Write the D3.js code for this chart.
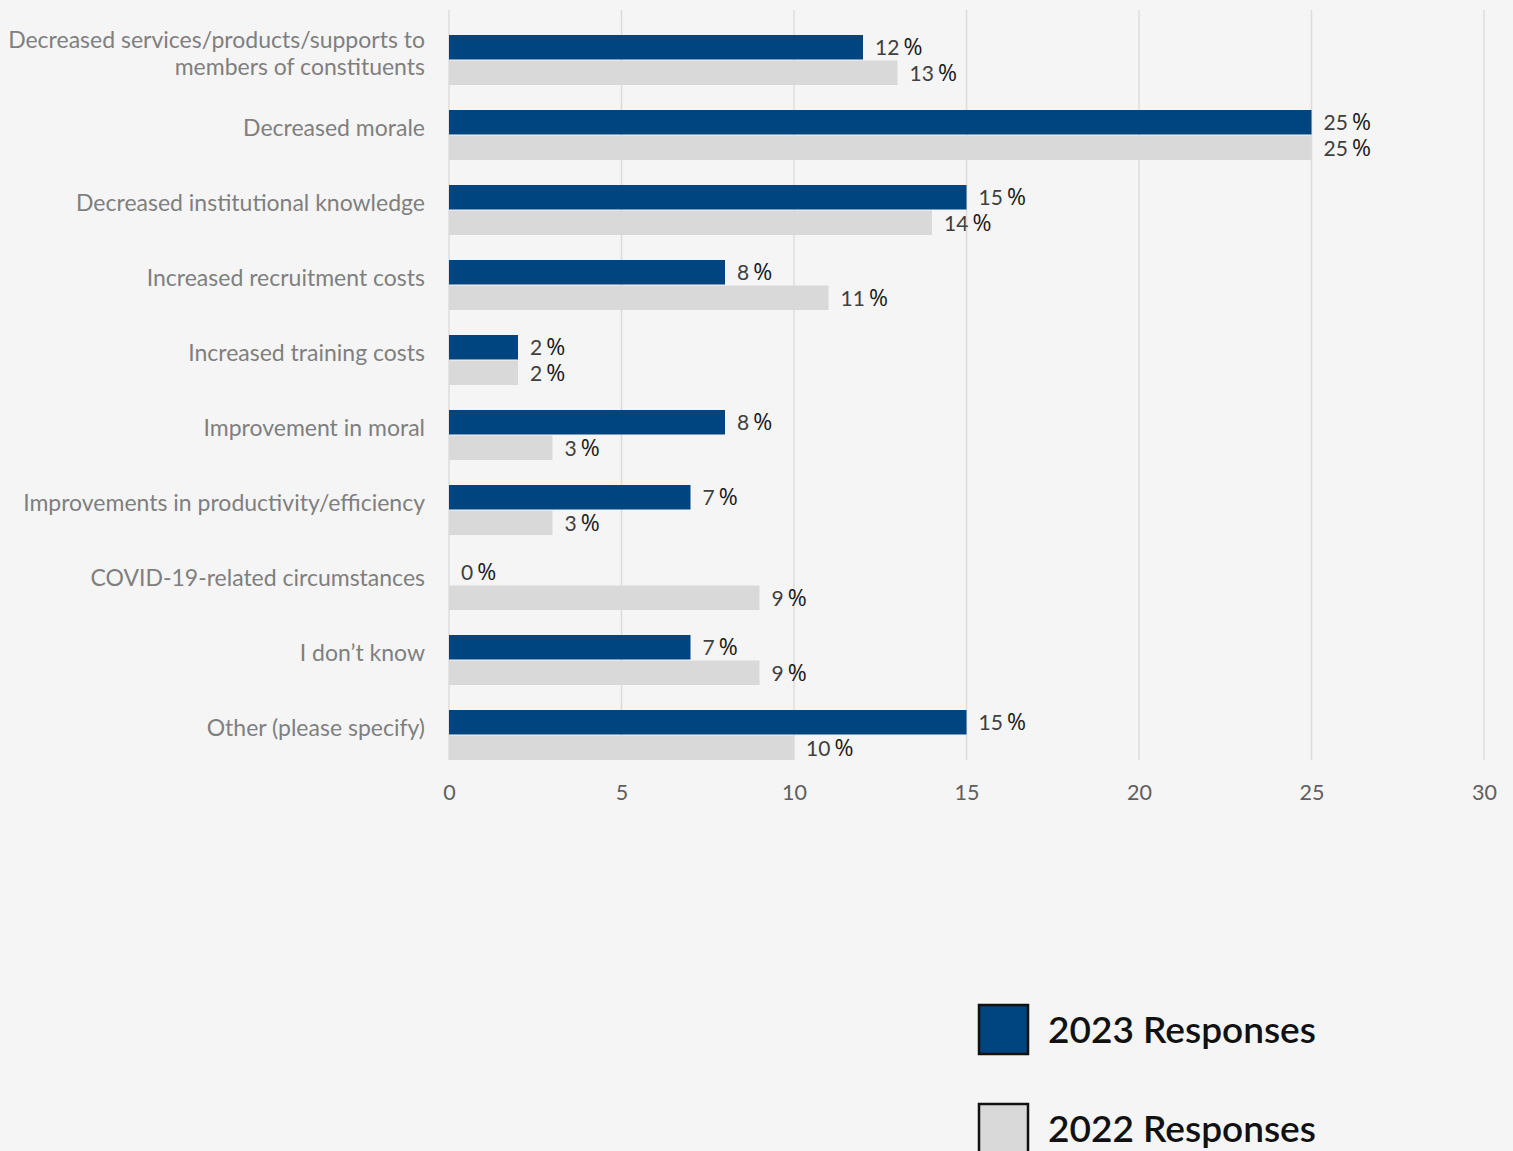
<!DOCTYPE html>
<html>
<head>
<meta charset="utf-8">
<script src="https://cdn.jsdelivr.net/npm/d3@7"></script>
<style>
  html, body { margin: 0; padding: 0; background: #f5f5f5; }
  svg { display: block; }
</style>
</head>
<body>
<svg id="chart" width="1513" height="1151"></svg>
<script>
// Effects reported by respondents, share of responses (%)
const categories = [
  "Decreased services/products/supports to\nmembers of constituents",
  "Decreased morale",
  "Decreased institutional knowledge",
  "Increased recruitment costs",
  "Increased training costs",
  "Improvement in moral",
  "Improvements in productivity/efficiency",
  "COVID-19-related circumstances",
  "I don\u2019t know",
  "Other (please specify)"
];
const values2023 = [12, 25, 15, 8, 2, 8, 7, 0, 7, 15];
const values2022 = [13, 25, 14, 11, 2, 3, 3, 9, 9, 10];
const seriesNames = ["2023 Responses", "2022 Responses"];
const seriesColors = ["#00457f", "#d9d9d9"];
const xTicks = [0, 5, 10, 15, 20, 25, 30];

const svg = d3.select("#chart");

const x = d3.scaleLinear().domain([0, 30]).range([449, 1484]);
const y = d3.scaleBand()
  .domain(categories)
  .range([22.5, 772.5])
  .paddingInner(1 / 3)
  .paddingOuter(1 / 6);
const ySub = d3.scaleBand()
  .domain(seriesNames)
  .range([0, y.bandwidth()])
  .paddingInner(0.04);

// vertical gridlines
svg.append("g")
  .selectAll("line")
  .data(xTicks)
  .join("line")
  .attr("x1", d => x(d)).attr("x2", d => x(d))
  .attr("y1", 10).attr("y2", 760)
  .attr("stroke", "#dcdcdc")
  .attr("stroke-width", 1.5);

// x axis labels
const xAxis = d3.axisBottom(x).tickValues(xTicks).tickSize(0).tickPadding(0);
const gx = svg.append("g").attr("transform", "translate(0,785)").call(xAxis);
gx.select(".domain").remove();
gx.selectAll("text")
  .attr("font-family", "Lato, sans-serif")
  .attr("font-size", 21.5)
  .attr("fill", "#5f5f5f");

// category labels
const yAxis = d3.axisLeft(y).tickSize(0).tickFormat("");
const gy = svg.append("g").attr("transform", "translate(449,0)").call(yAxis);
gy.select(".domain").remove();

svg.append("g")
  .selectAll("text")
  .data(categories)
  .join("text")
  .attr("x", 425)
  .attr("text-anchor", "end")
  .attr("font-family", "Lato, sans-serif")
  .attr("font-size", 23)
  .attr("fill", "#7f7f7f")
  .each(function (d) {
    const lines = d.split("\n");
    const cy = y(d) + y.bandwidth() / 2 - 7;
    const lh = 27;
    const t = d3.select(this);
    lines.forEach((ln, i) => {
      t.append("tspan")
        .attr("x", 425)
        .attr("y", cy + (i - (lines.length - 1) / 2) * lh)
        .attr("dy", "0.35em")
        .text(ln);
    });
  });

// bars and value labels
const rows = categories.map((c, i) => ({
  cat: c,
  vals: [
    { s: seriesNames[0], v: values2023[i], c: seriesColors[0] },
    { s: seriesNames[1], v: values2022[i], c: seriesColors[1] }
  ]
}));

const groups = svg.append("g")
  .selectAll("g")
  .data(rows)
  .join("g")
  .attr("transform", d => `translate(0,${y(d.cat)})`);

groups.selectAll("rect")
  .data(d => d.vals)
  .join("rect")
  .attr("x", x(0))
  .attr("y", d => ySub(d.s))
  .attr("width", d => x(d.v) - x(0))
  .attr("height", ySub.bandwidth())
  .attr("fill", d => d.c);

const vl = groups.selectAll("text")
  .data(d => d.vals)
  .join("text")
  .attr("x", d => x(d.v) + 12)
  .attr("y", d => ySub(d.s) + ySub.bandwidth() / 2 + 2)
  .attr("dy", "0.36em");
vl.append("tspan")
  .attr("font-family", "Lato, sans-serif")
  .attr("font-size", 21)
  .attr("fill", "#404040")
  .text(d => d.v);
vl.append("tspan")
  .attr("dx", 4)
  .attr("font-family", "'Open Sans', sans-serif")
  .attr("font-size", 23)
  .attr("fill", "#1a1a1a")
  .text("%");

// legend
const legend = svg.append("g")
  .selectAll("g")
  .data(seriesNames)
  .join("g")
  .attr("transform", (d, i) => `translate(979,${1005 + i * 99})`);
legend.append("rect")
  .attr("width", 49).attr("height", 49)
  .attr("fill", (d, i) => seriesColors[i])
  .attr("stroke", "#111")
  .attr("stroke-width", 2.5);
legend.append("text")
  .attr("x", 69).attr("y", 25)
  .attr("dy", "0.36em")
  .attr("font-family", "Lato, sans-serif")
  .attr("font-weight", 600)
  .attr("font-size", 37)
  .attr("fill", "#111")
  .text(d => d);
</script>
</body>
</html>
